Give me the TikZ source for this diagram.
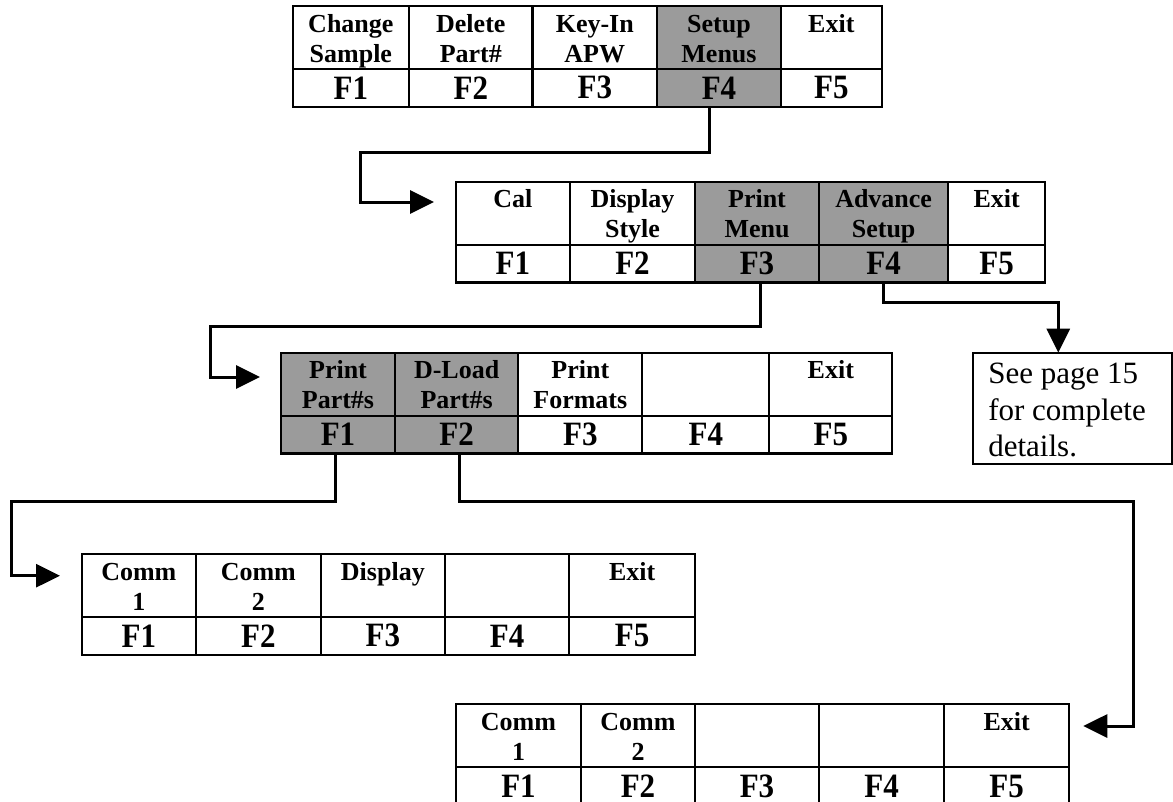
\documentclass[tikz,border=0pt]{standalone}
\usepackage{fontspec}
\setmainfont{Liberation Serif}
\usetikzlibrary{arrows.meta}
\definecolor{shade}{RGB}{155,155,155}
\newcommand\labelfont{\bfseries\fontsize{26}{30}\selectfont}
\newcommand\keyfont{\bfseries\fontsize{31}{34}\selectfont}
% #1 name, #2 x left, #3 x right, #4 y top, #5 label, #6 key, #7 fill
\newcommand\keycol[7]{%
  \node[cellbox, fill=#7, anchor=north] (#1t) at ({(#2+#3)/2},#4)
    {\parbox[c][63pt][t]{\dimexpr#3pt-#2pt\relax}{\centering\labelfont\rule{0pt}{26pt}#5}};
  \node[cellbox, fill=#7, anchor=north, minimum width={(#3-#2)*1pt}, minimum height=37.7pt]
    (#1b) at ({(#2+#3)/2},{#4+63}) {\keyfont\scalebox{1}[1.1]{#6}};
}
\begin{document}
\begin{tikzpicture}[x=1pt,y=-1pt,
  cellbox/.style={draw=black, line width=2.3pt, inner sep=0pt, outer sep=0pt},
  conn/.style={line width=3pt, -{Triangle[length=24pt,width=23pt]}},
  notebox/.style={draw=black, line width=2.3pt, inner sep=0pt, outer sep=0pt, anchor=north west}]
\useasboundingbox (0,0) rectangle (1173,801);
\fill[white] (0,0) rectangle (1173,801);
% Table 1
\keycol{t1c1}{292.7}{409}{6}{Change\\Sample}{F1}{white}
\keycol{t1c2}{409}{532.6}{6}{Delete\\Part\#}{F2}{white}
\keycol{t1c3}{532.6}{657}{6}{Key-In\\APW}{F3}{white}
\keycol{t1c4}{657}{781}{6}{Setup\\Menus}{F4}{shade}
\keycol{t1c5}{781}{881.7}{6}{Exit}{F5}{white}
% Table 2
\keycol{t2c1}{455.7}{570}{181.7}{Cal}{F1}{white}
\keycol{t2c2}{570}{695}{181.7}{Display\\Style}{F2}{white}
\keycol{t2c3}{695}{819}{181.7}{Print\\Menu}{F3}{shade}
\keycol{t2c4}{819}{948.3}{181.7}{Advance\\Setup}{F4}{shade}
\keycol{t2c5}{948.3}{1045}{181.7}{Exit}{F5}{white}
% Table 3
\keycol{t3c1}{281}{395}{352.7}{Print\\Part\#s}{F1}{shade}
\keycol{t3c2}{395}{518.3}{352.7}{D-Load\\Part\#s}{F2}{shade}
\keycol{t3c3}{518.3}{642.3}{352.7}{Print\\Formats}{F3}{white}
\keycol{t3c4}{642.3}{769.3}{352.7}{}{F4}{white}
\keycol{t3c5}{769.3}{892.3}{352.7}{Exit}{F5}{white}
% Table 4
\keycol{t4c1}{81.7}{196}{554}{Comm\\1}{F1}{white}
\keycol{t4c2}{196}{320.7}{554}{Comm\\2}{F2}{white}
\keycol{t4c3}{320.7}{445}{554}{Display}{F3}{white}
\keycol{t4c4}{445}{569.3}{554}{}{F4}{white}
\keycol{t4c5}{569.3}{695}{554}{Exit}{F5}{white}
% Table 5
\keycol{t5c1}{456}{581}{704.3}{Comm\\1}{F1}{white}
\keycol{t5c2}{581}{695}{704.3}{Comm\\2}{F2}{white}
\keycol{t5c3}{695}{819}{704.3}{}{F3}{white}
\keycol{t5c4}{819}{944.3}{704.3}{}{F4}{white}
\keycol{t5c5}{944.3}{1069}{704.3}{Exit}{F5}{white}
% Note box
\node[notebox] (note) at (972.7,352.7)
  {\parbox[c][111.6pt][t]{199.3pt}{\raggedright\leftskip=15.6pt\fontsize{31}{36.7}\selectfont\rule{0pt}{30.6pt}See page 15\\for complete\\details.}};
% Bend points
\coordinate (b1) at (360,152);
\coordinate (b2) at (210,326);
\coordinate (b3) at (1058.3,302.3);
\coordinate (b4) at (11,501);
\coordinate (b5) at (1133.3,501);
% Connectors
\draw[conn] ([xshift=-10pt]t1c4b.south) |- (b1) |- ([xshift=-21.7pt,yshift=11.2pt]t2c1t.west);
\draw[conn] ([xshift=3pt]t2c3b.south) |- (b2) |- ([xshift=-21pt,yshift=7.2pt]t3c1t.west);
\draw[conn] (t2c4b.south) |- (b3) -- (b3 |- note.north);
\draw[conn] ([xshift=-3pt]t3c1b.south) |- (b4) |- ([xshift=-21.7pt,yshift=9.8pt]t4c1t.west);
\draw[conn] ([xshift=3pt]t3c2b.south) |- (b5) |- ([xshift=14.3pt,yshift=9.8pt]t5c5t.east);
\end{tikzpicture}
\end{document}
